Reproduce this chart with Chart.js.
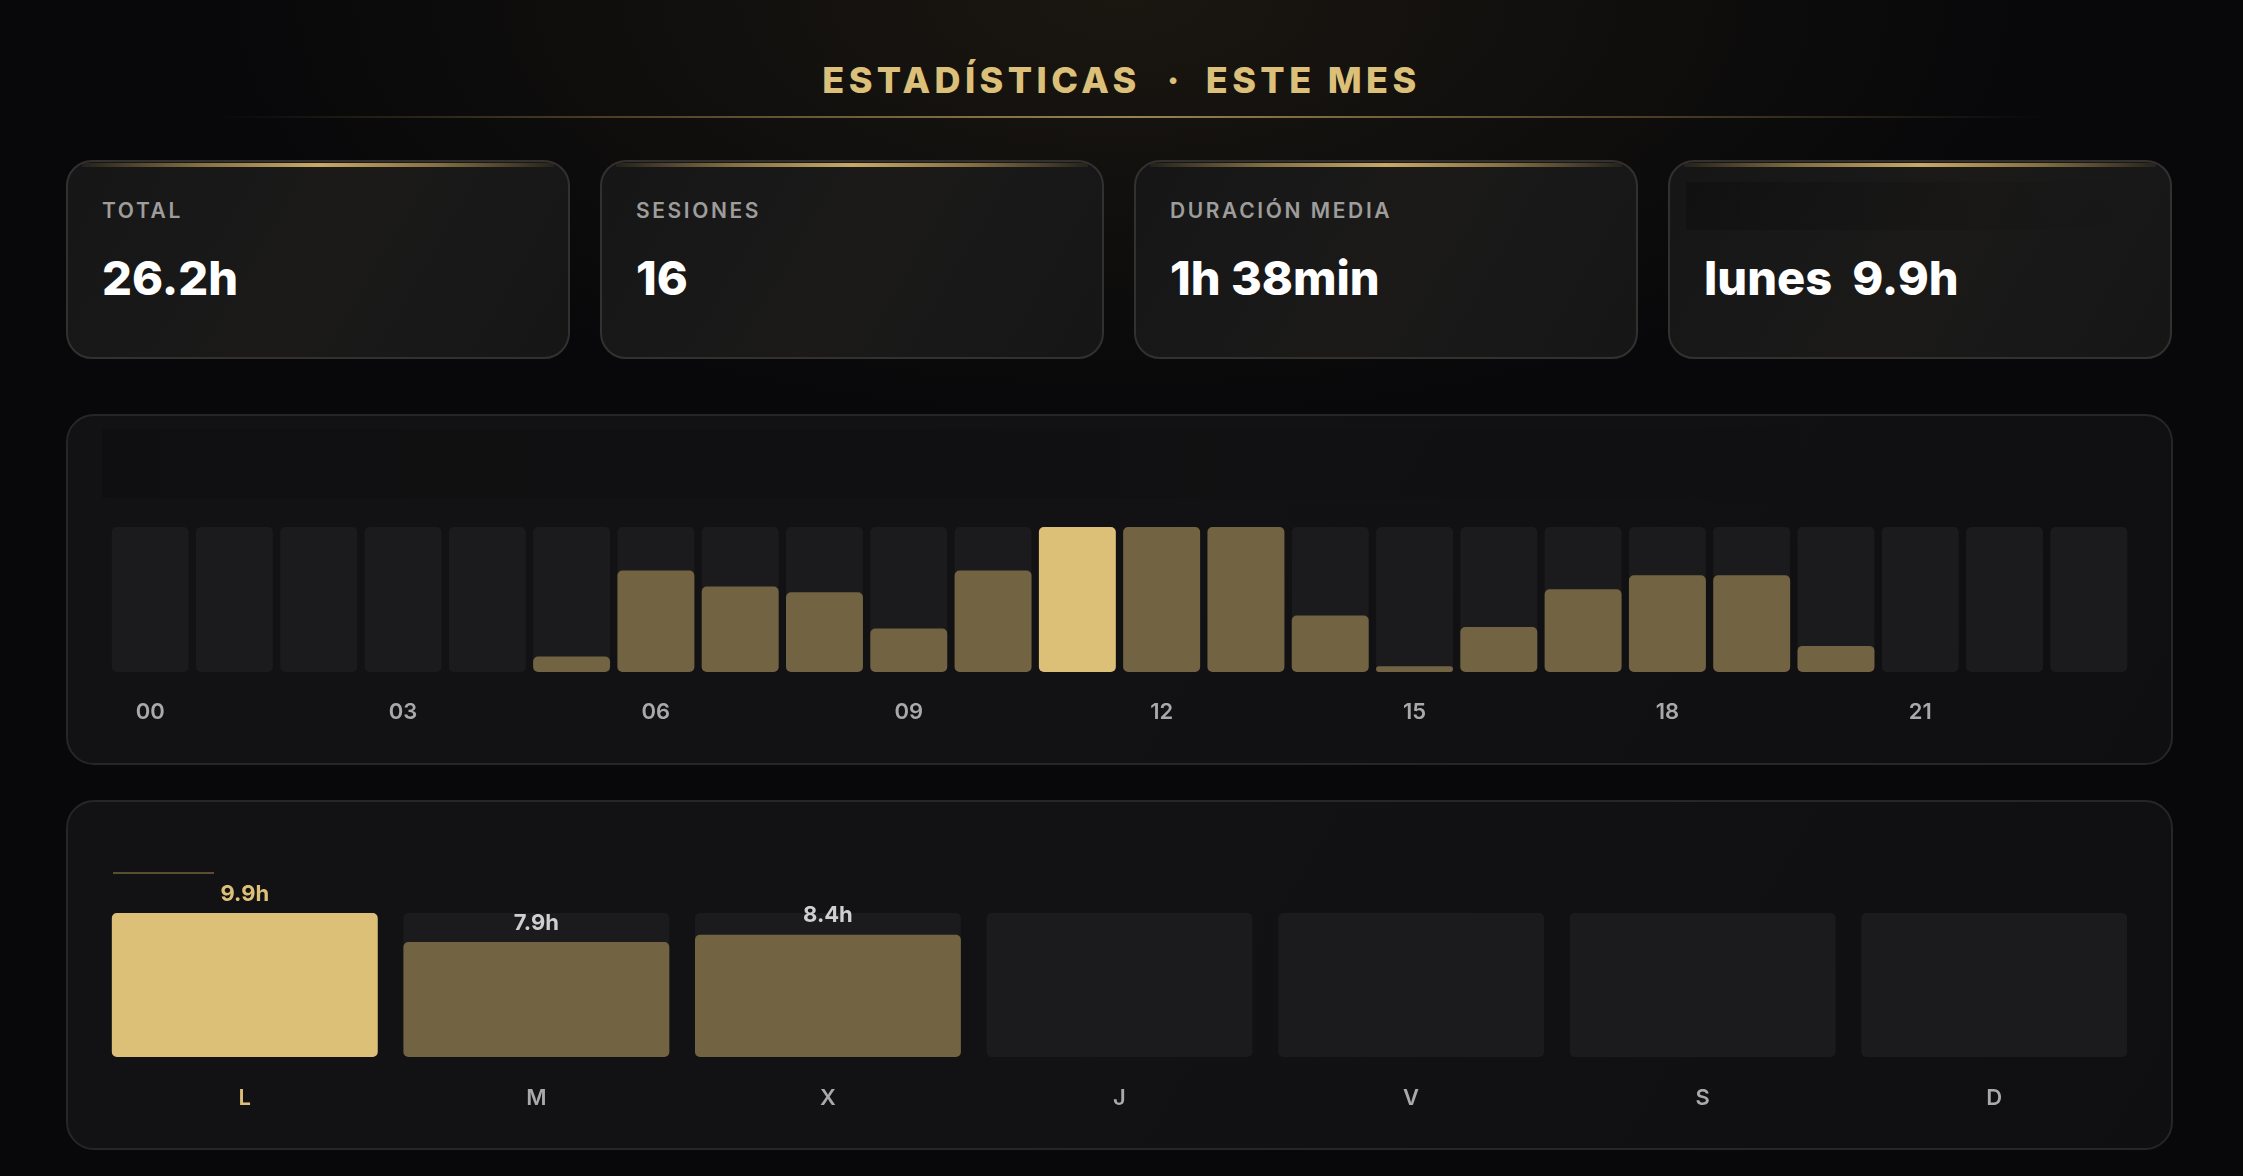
<!DOCTYPE html>
<html lang="es">
<head>
<meta charset="utf-8">
<title>Estadísticas · Este mes</title>
<script src="https://cdn.jsdelivr.net/npm/chart.js@4.4.0/dist/chart.umd.min.js"></script>
<style>
  html, body { margin: 0; padding: 0; }
  body {
    width: 2243px; height: 1176px; overflow: hidden; position: relative;
    font-family: Inter, "Noto Sans", sans-serif;
    background:
      radial-gradient(ellipse 900px 420px at 50% 0%, rgba(60, 50, 30, 0.35), rgba(0, 0, 0, 0) 100%),
      #08080a;
  }
  .title {
    position: absolute; left: 0; top: 62px; width: 2243px;
    text-align: center; font-size: 36px; line-height: 36px; font-weight: 800;
    letter-spacing: 4.4px; color: #dcc07a;
  }
  .title .dot { margin: 0 22px 0 26px; }
  .title-line {
    position: absolute; left: 215px; top: 116px; width: 1830px; height: 2px;
    background: linear-gradient(90deg, rgba(140,115,65,0), rgba(140,115,65,0.55) 25%, #9b8350 50%, rgba(140,115,65,0.55) 75%, rgba(140,115,65,0));
  }
  .card {
    position: absolute; top: 160px; width: 500px; height: 195px;
    border: 2px solid #323130; border-radius: 26px;
    background: linear-gradient(120deg, #161617 0%, #1b1a19 50%, #161617 100%);
    overflow: hidden;
  }
  .card .bar-top {
    position: absolute; left: 14px; right: 14px; top: 1px; height: 4px;
    background: linear-gradient(90deg, rgba(160,130,70,0.1), rgba(180,150,85,0.7) 25%, #c9a965 50%, rgba(180,150,85,0.7) 75%, rgba(160,130,70,0.1));
  }
  .card .lbl {
    position: absolute; left: 34px; top: 38px; font-size: 21px; line-height: 21px;
    font-weight: 600; letter-spacing: 2.6px; color: #9e9d9b;
  }
  .card .val {
    position: absolute; left: 34px; top: 92px; font-size: 47px; line-height: 47px;
    font-weight: 800; color: #ffffff; white-space: pre;
  }
  .card .blank {
    position: absolute; left: 16px; top: 20px; width: 470px; height: 48px;
    background: linear-gradient(90deg, rgba(0,0,0,0.22), rgba(0,0,0,0.08) 70%, rgba(0,0,0,0));
  }
  .panel {
    position: absolute; left: 66px; width: 2103px;
    border: 2px solid #262628; border-radius: 28px;
    background: linear-gradient(120deg, #121214 0%, #121214 50%, #0f0f11 100%);
  }
  .ph {
    position: absolute; left: 34px; top: 13px; width: 2015px; height: 69px;
    background: linear-gradient(90deg, rgba(0,0,0,0.16), rgba(0,0,0,0.06) 70%, rgba(0,0,0,0));
  }
  .mark {
    position: absolute; left: 113px; top: 872px; width: 101px; height: 2px;
    background: #5b4d2f;
  }
  canvas { position: absolute; }
</style>
</head>
<body>
<div class="title"><span>ESTADÍSTICAS</span><span class="dot">·</span><span>ESTE MES</span></div>
<div class="title-line"></div>

<div id="cards"></div>

<div class="panel" style="top:414px;height:347px;"><div class="ph"></div></div>
<div class="panel" style="top:800px;height:346px;"></div>
<div class="mark"></div>

<canvas id="hourChart" width="2023" height="225" style="left:108px;top:517px;"></canvas>
<canvas id="dayChart" width="2041" height="268" style="left:99px;top:860px;"></canvas>

<script>
// colours
const GOLD = '#ddc078';
const GOLD_DIM = '#726343';
const TRACK = '#1b1b1d';
const GREY = '#a9a9a9';

// summary cards
const cardLabels = ['TOTAL', 'SESIONES', 'DURACIÓN MEDIA', ''];
const cardValues = ['26.2h', '16', '1h 38min'];

// hours of the day (hours worked in each hour slot)
const hourLabels = ['00','01','02','03','04','05','06','07','08','09','10','11',
                    '12','13','14','15','16','17','18','19','20','21','22','23'];
const hourValues = [0, 0, 0, 0, 0, 0.32, 2.1, 1.77, 1.65, 0.9, 2.1, 3.0,
                    3.0, 3.0, 1.17, 0.12, 0.93, 1.71, 2.0, 2.0, 0.54, 0, 0, 0];
const highlightHour = 11;

// days of the week
const dayLabels = ['L', 'M', 'X', 'J', 'V', 'S', 'D'];
const dayNames = ['lunes', 'martes', 'miércoles', 'jueves', 'viernes', 'sábado', 'domingo'];
const dayHours = [9.9, 7.9, 8.4, 0, 0, 0, 0];

const hourMax = Math.max(...hourValues);
const dayMax = Math.max(...dayHours);
const bestDay = dayHours.indexOf(dayMax);

// build the 4 cards
var cards = document.getElementById('cards');
cardLabels.forEach(function (lbl, i) {
  var c = document.createElement('div');
  c.className = 'card';
  c.style.left = (66 + i * 534) + 'px';
  var html = '<div class="bar-top"></div>';
  if (lbl) html += '<div class="lbl">' + lbl + '</div>';
  else html += '<div class="blank"></div>';
  if (i < 3) html += '<div class="val">' + cardValues[i] + '</div>';
  else html += '<div class="val">' + dayNames[bestDay] + '<span style="margin-left:20px">' + dayMax.toFixed(1) + 'h</span></div>';
  c.innerHTML = html;
  cards.appendChild(c);
});

Chart.defaults.font.family = 'Inter, "Noto Sans", sans-serif';

// hours chart
new Chart(document.getElementById('hourChart'), {
  type: 'bar',
  data: {
    labels: hourLabels,
    datasets: [{
      data: hourValues,
      backgroundColor: hourValues.map((v, i) => i === highlightHour ? GOLD : GOLD_DIM),
      borderRadius: 5,
      borderSkipped: false,
      grouped: false,
      barPercentage: 0.913,
      categoryPercentage: 1,
      order: 1
    }, {
      data: hourValues.map(() => hourMax),
      backgroundColor: TRACK,
      borderRadius: 5,
      borderSkipped: false,
      grouped: false,
      barPercentage: 0.913,
      categoryPercentage: 1,
      order: 2
    }]
  },
  options: {
    responsive: false,
    animation: false,
    layout: { padding: { top: 10, left: 0, right: 0, bottom: 0 } },
    plugins: { legend: { display: false }, tooltip: { enabled: false } },
    scales: {
      x: {
        grid: { display: false, drawTicks: false },
        border: { display: false },
        afterFit: s => { s.height = 70; },
        ticks: {
          autoSkip: false, maxRotation: 0, padding: 27,
          color: GREY, font: { size: 22, weight: '600' },
          callback: function (v, i) { return i % 3 === 0 ? hourLabels[i] : ''; }
        }
      },
      y: { display: false, min: 0, max: hourMax }
    }
  }
});

// label above each day bar
const dayValueLabels = {
  id: 'dayValueLabels',
  afterDatasetsDraw(chart) {
    const meta = chart.getDatasetMeta(0);
    const ctx = chart.ctx;
    ctx.save();
    ctx.font = '700 22px Inter, "Noto Sans", sans-serif';
    ctx.textAlign = 'center';
    ctx.textBaseline = 'middle';
    meta.data.forEach((bar, i) => {
      if (!dayHours[i]) return;
      ctx.fillStyle = i === bestDay ? GOLD : '#cfcfcf';
      ctx.fillText(dayHours[i].toFixed(1) + 'h', bar.x, bar.y - 19);
    });
    ctx.restore();
  }
};

// week chart
new Chart(document.getElementById('dayChart'), {
  type: 'bar',
  data: {
    labels: dayLabels,
    datasets: [{
      data: dayHours,
      backgroundColor: dayHours.map((v, i) => i === bestDay ? GOLD : GOLD_DIM),
      borderRadius: 5,
      borderSkipped: false,
      grouped: false,
      barPercentage: 0.912,
      categoryPercentage: 1,
      order: 1
    }, {
      data: dayHours.map(() => dayMax),
      backgroundColor: TRACK,
      borderRadius: 5,
      borderSkipped: false,
      grouped: false,
      barPercentage: 0.912,
      categoryPercentage: 1,
      order: 2
    }]
  },
  options: {
    responsive: false,
    animation: false,
    layout: { padding: { top: 53, left: 0, right: 0, bottom: 0 } },
    plugins: { legend: { display: false }, tooltip: { enabled: false } },
    scales: {
      x: {
        grid: { display: false, drawTicks: false },
        border: { display: false },
        afterFit: s => { s.height = 71; },
        ticks: {
          autoSkip: false, maxRotation: 0, padding: 28,
          color: c => c.index === bestDay ? GOLD : GREY,
          font: { size: 22, weight: '600' }
        }
      },
      y: { display: false, min: 0, max: dayMax }
    }
  },
  plugins: [dayValueLabels]
});
</script>
</body>
</html>
